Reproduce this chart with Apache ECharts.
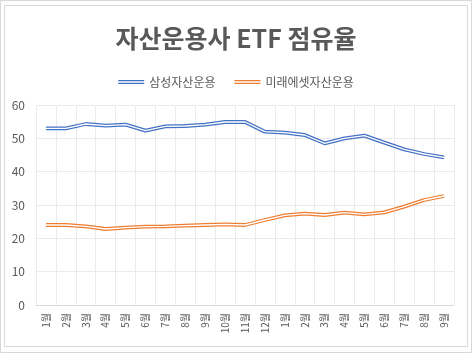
<!DOCTYPE html>
<html>
<head>
<meta charset="utf-8">
<script src="https://cdn.jsdelivr.net/npm/echarts@6/dist/echarts.min.js"></script>
<style>
  html, body { margin: 0; padding: 0; background: #fff; }
  #chart { width: 472px; height: 353px; }
</style>
</head>
<body>
<div id="chart"></div>
<script>
// 월별 카테고리 (2년치: 1월~12월, 1월~9월)
var months = ['1월', '2월', '3월', '4월', '5월', '6월', '7월', '8월', '9월', '10월', '11월', '12월',
              '1월', '2월', '3월', '4월', '5월', '6월', '7월', '8월', '9월'];

var samsung = [53.0, 53.0, 54.3, 53.8, 54.1, 52.3, 53.6, 53.7, 54.1, 54.9, 54.9, 52.0,
               51.7, 51.0, 48.5, 50.0, 50.8, 48.7, 46.7, 45.3, 44.3];
var mirae = [24.0, 24.0, 23.6, 22.8, 23.2, 23.5, 23.6, 23.8, 24.0, 24.2, 24.0, 25.5,
             26.9, 27.4, 27.0, 27.7, 27.2, 27.8, 29.5, 31.5, 32.7];

var yTicks = [0, 10, 20, 30, 40, 50, 60];

var FONT = '"Noto Sans CJK KR", "Noto Sans", sans-serif';
var BLUE = '#4472C4';
var ORANGE = '#ED7D31';
var doubleIcon = 'path://M0,0H26V1.3H0Z M0,2.7H26V4H0Z';

// 이중선 효과: 굵은 색 선 + 가는 흰 선
function lineSeries(name, data, color, width, z) {
    return {
        name: name,
        type: 'line',
        data: data,
        symbol: 'none',
        smooth: false,
        z: z,
        silent: true,
        lineStyle: { color: color, width: width },
        itemStyle: { color: color }
    };
}

var myChart = echarts.init(document.getElementById('chart'));

var option = {
    backgroundColor: '#fff',
    animation: false,
    title: {
        text: '자산운용사 ETF 점유율',
        left: 'center',
        top: 21,
        textStyle: { fontFamily: FONT, fontSize: 25, fontWeight: 'bold', color: '#595959' }
    },
    legend: {
        data: [
            { name: '삼성자산운용', icon: doubleIcon },
            { name: '미래에셋자산운용', icon: doubleIcon }
        ],
        left: 'center',
        top: 71,
        itemWidth: 26,
        itemHeight: 4,
        itemGap: 19,
        textStyle: { fontFamily: FONT, fontSize: 12, color: '#595959' }
    },
    graphic: [
        { type: 'rect', shape: { x: 0.5, y: 0.5, width: 471, height: 352 },
          style: { fill: 'none', stroke: '#d9d9d9', lineWidth: 1 }, silent: true },
        { type: 'rect', shape: { x: 4.5, y: 5.5, width: 463, height: 341 },
          style: { fill: 'none', stroke: '#d9d9d9', lineWidth: 1 }, silent: true }
    ],
    grid: { left: 36, right: 18, top: 105, bottom: 48, containLabel: false },
    xAxis: {
        type: 'category',
        data: months,
        boundaryGap: true,
        axisLine: { lineStyle: { color: '#d9d9d9' } },
        axisTick: { show: false },
        splitLine: { show: true, lineStyle: { color: '#ebebeb' } },
        axisLabel: { rotate: 90, interval: 0, margin: 8, fontFamily: FONT, fontSize: 10, color: '#595959' }
    },
    yAxis: {
        type: 'value',
        min: yTicks[0],
        max: yTicks[yTicks.length - 1],
        interval: 10,
        axisLine: { show: false },
        axisTick: { show: false },
        splitLine: { lineStyle: { color: '#ebebeb' } },
        axisLabel: { margin: 11, fontFamily: FONT, fontSize: 12, color: '#595959' }
    },
    series: [
        lineSeries('삼성자산운용', samsung, BLUE, 3.8, 2),
        lineSeries('삼성자산운용 ', samsung, '#fff', 1.3, 3),
        lineSeries('미래에셋자산운용', mirae, ORANGE, 3.8, 4),
        lineSeries('미래에셋자산운용 ', mirae, '#fff', 1.3, 5)
    ]
};

myChart.setOption(option);
</script>
</body>
</html>
